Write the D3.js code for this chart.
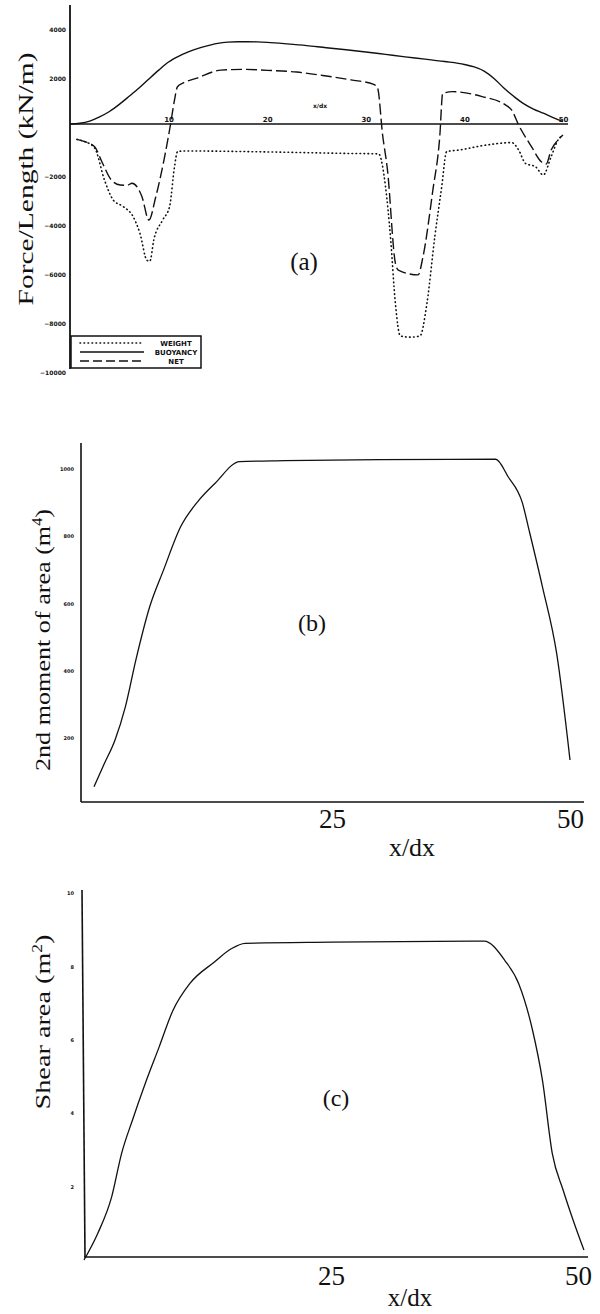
<!DOCTYPE html>
<html>
<head>
<meta charset="utf-8">
<script src="https://cdn.jsdelivr.net/npm/d3@7"></script>
<style>
  body { margin: 0; background: #fff; }
  svg { display: block; }
</style>
</head>
<body>
<script>
// ---- Panel (a): load distribution along the hull (kN/m) ----
const forceTicks = [4000, 2000, -2000, -4000, -6000, -8000, -10000];
const stationTicks = [10, 20, 30, 40, 50];
const legendLabels = ["WEIGHT", "BUOYANCY", "NET"];

const buoyancyX = [0, 1, 2, 3, 4, 5, 6, 7, 8, 9, 10, 11, 12, 13, 14, 15, 16, 17, 18, 19, 20,
  22, 24, 26, 28, 30, 32, 34, 36, 38, 40, 41, 42, 43, 44, 45, 46, 47, 48, 49, 50];
const buoyancy = [0, 30, 120, 290, 510, 800, 1130, 1470, 1840, 2200, 2530, 2760, 2940, 3090, 3200,
  3290, 3340, 3360, 3360, 3350, 3330, 3270, 3200, 3110, 3030, 2940, 2840, 2740, 2650, 2550, 2430,
  2330, 2160, 1860, 1470, 1130, 830, 610, 440, 260, 100];

const netX = [0.7, 1.5, 2.5, 3.3, 4.2, 5.1, 5.8, 6.3, 7.3, 8.0, 8.7, 9.6, 10.2, 10.6, 10.9,
  11.5, 12.8, 15.3, 17.7, 20, 23, 26, 28.5, 30.8, 31.2, 31.7, 32.2, 33, 33.3, 35.3,
  35.8, 36.8, 37.5, 37.8, 38.8, 41.8, 44.2, 44.8, 45.5, 46.8, 47.8, 48.3, 48.8, 49.5, 50];
const net = [-630, -720, -925, -1600, -2290, -2490, -2500, -2420, -2970, -3920, -2970, -1330, 0, 980, 1520,
  1680, 1860, 2200, 2230, 2190, 2120, 1960, 1800, 1620, 1460, -430, -1880, -5680, -5960, -6160,
  -5420, -2700, -520, 1250, 1320, 1120, 770, 570, -40, -920, -1540, -1630, -1060, -650, -450];

const weightX = [0.7, 1.5, 2.5, 3.5, 4.4, 5.4, 6.4, 7.1, 7.8, 8.1, 8.5, 9.4, 10.1, 10.6, 10.9,
  11.5, 20, 28, 31.3, 32, 32.5, 33, 33.5, 34.5, 35.5, 36.2, 37, 37.7, 38.2, 39.5,
  42.2, 44.8, 45.5, 46.2, 47.2, 48, 48.8, 49.5, 50];
const weight = [-630, -720, -980, -2290, -3110, -3370, -3780, -4470, -5560, -5600, -4730, -3920, -3370, -1740, -1130,
  -1100, -1140, -1200, -1220, -2560, -4600, -7320, -8650, -8700, -8650, -7320, -4600, -2560, -1130, -1060,
  -860, -760, -1060, -1610, -1740, -2080, -1330, -650, -450];

// ---- Panel (b): second moment of area (m^4) ----
const inertiaTicks = [200, 400, 600, 800, 1000];
const inertiaX = [0, 1.1, 2.2, 3.3, 4.4, 5.85, 7.3, 9.1, 10.9, 12.7, 15.3, 20, 30, 42.2, 43.5, 45, 45.7, 47.1, 48.6, 50];
const inertia = [54, 124, 193, 293, 432, 590, 699, 828, 903, 957, 1022, 1025, 1028, 1029, 977, 899, 818, 650, 451, 134];

// ---- Panel (c): shear area (m^2) ----
const shearTicks = [2, 4, 6, 8, 10];
const shearX = [0, 1.4, 2.8, 3.8, 4.9, 6.2, 7.6, 9.0, 10.7, 13.2, 14.9, 16.3, 25, 40.5, 42.6, 44, 45.4, 46.4, 47.4, 48.5, 49.5, 50.6];
const shearArea = [0, 0.73, 1.72, 2.9, 3.81, 4.81, 5.8, 6.8, 7.53, 8.12, 8.48, 8.63, 8.66, 8.69, 8.16, 7.53, 6.26, 4.9, 2.9, 1.9, 1.09, 0.27];

const lengthTicks = [25, 50];

const zip = (xs, ys) => xs.map((x, i) => [x, ys[i]]);
const ink = "#111";
const serif = "'Liberation Serif', 'DejaVu Serif', serif";
const tiny = "'DejaVu Sans', 'Liberation Sans', sans-serif";

const svg = d3.select("body").append("svg")
  .attr("width", 600).attr("height", 1314)
  .style("background", "#fff");

function curve(g, data, x, y, dash, width) {
  const line = d3.line().x(d => x(d[0])).y(d => y(d[1])).curve(d3.curveMonotoneX);
  g.append("path").datum(data)
    .attr("d", line)
    .attr("fill", "none")
    .attr("stroke", ink)
    .attr("stroke-width", width || 1.3)
    .attr("stroke-linecap", dash === "dot" ? "round" : "butt")
    .attr("stroke-dasharray", dash === "dot" ? "0.6,3.4" : (dash || null));
}

function rotatedLabel(cx, cy, parts, len, size) {
  const t = svg.append("text")
    .attr("transform", `translate(${cx},${cy}) rotate(-90)`)
    .attr("text-anchor", "middle")
    .attr("font-family", serif)
    .attr("font-size", size)
    .attr("fill", ink)
    .attr("textLength", len)
    .attr("lengthAdjust", "spacingAndGlyphs");
  parts.forEach(p => {
    const s = t.append("tspan").text(p.t);
    if (p.sup) s.attr("dy", -8).attr("font-size", size * 0.62);
    if (p.after) s.attr("dy", 8);
  });
}

function styleTiny(sel, size) {
  sel.select(".domain").remove();
  sel.selectAll("text")
    .attr("font-family", tiny)
    .attr("font-weight", "bold")
    .attr("font-size", size)
    .attr("fill", ink);
}

// ================= Panel (a) =================
const xA = d3.scaleLinear().domain([0, 50]).range([70, 563]);
const yA = d3.scaleLinear().domain([-10000, 4000]).range([369, 26]);
const gA = svg.append("g");

// axis lines
gA.append("line").attr("x1", 70).attr("x2", 70).attr("y1", 5).attr("y2", 369)
  .attr("stroke", ink).attr("stroke-width", 1.8);
gA.append("line").attr("x1", 70).attr("x2", 568).attr("y1", yA(0)).attr("y2", yA(0))
  .attr("stroke", ink).attr("stroke-width", 1.5);

const axA = gA.append("g").attr("transform", "translate(70,4)")
  .call(d3.axisLeft(yA).tickValues(forceTicks).tickSize(0).tickPadding(4).tickFormat(d3.format("d")));
styleTiny(axA, 6);

const axAx = gA.append("g").attr("transform", `translate(0,${yA(0) - 1})`)
  .call(d3.axisTop(xA).tickValues(stationTicks).tickSize(0).tickPadding(1));
styleTiny(axAx, 7);

gA.append("text").attr("x", 320).attr("y", 108).attr("text-anchor", "middle")
  .attr("font-family", tiny).attr("font-weight", "bold").attr("font-size", 6).attr("fill", ink)
  .text("x/dx");

curve(gA, zip(buoyancyX, buoyancy), xA, yA, null, 1.4);
curve(gA, zip(netX, net), xA, yA, "11,4", 1.4);
curve(gA, zip(weightX, weight), xA, yA, "dot", 1.6);

// legend
const lg = gA.append("g");
lg.append("rect").attr("x", 71).attr("y", 336).attr("width", 130).attr("height", 32)
  .attr("fill", "#fff").attr("stroke", ink).attr("stroke-width", 1.5);
const legendDash = ["dot", null, "9,4"];
const legendY = [343, 352, 361];
legendLabels.forEach((lab, i) => {
  lg.append("line").attr("x1", 80).attr("x2", 144).attr("y1", legendY[i]).attr("y2", legendY[i])
    .attr("stroke", ink).attr("stroke-width", legendDash[i] === "dot" ? 1.6 : 1.3)
    .attr("stroke-linecap", legendDash[i] === "dot" ? "round" : "butt")
    .attr("stroke-dasharray", legendDash[i] === "dot" ? "0.6,3.4" : legendDash[i]);
  lg.append("text").attr("x", 176).attr("y", legendY[i] + 3).attr("text-anchor", "middle")
    .attr("font-family", tiny).attr("font-weight", "bold").attr("font-size", 7).attr("fill", ink)
    .text(lab);
});

rotatedLabel(33, 179, [{ t: "Force/Length (kN/m)" }], 253, 22);
gA.append("text").attr("x", 304).attr("y", 270).attr("text-anchor", "middle")
  .attr("font-family", serif).attr("font-size", 25).attr("fill", ink).text("(a)");

// ================= Panel (b) =================
const xB = d3.scaleLinear().domain([0, 50]).range([94, 570]);
const yB = d3.scaleLinear().domain([0, 1000]).range([805, 469]);
const gB = svg.append("g");

gB.append("line").attr("x1", 81).attr("x2", 81).attr("y1", 443).attr("y2", 802)
  .attr("stroke", ink).attr("stroke-width", 1.6);
gB.append("line").attr("x1", 81).attr("x2", 584).attr("y1", 802).attr("y2", 802)
  .attr("stroke", ink).attr("stroke-width", 1.6);

const axB = gB.append("g").attr("transform", "translate(81,0)")
  .call(d3.axisLeft(yB).tickValues(inertiaTicks).tickSize(0).tickPadding(7).tickFormat(d3.format("d")));
styleTiny(axB, 5);

const axBx = gB.append("g").attr("transform", "translate(0,802)")
  .call(d3.axisBottom(xB).tickValues(lengthTicks).tickSize(0).tickPadding(9));
axBx.select(".domain").remove();
axBx.selectAll("text").attr("font-family", serif).attr("font-size", 27).attr("fill", ink).attr("dy", "0.62em");

curve(gB, zip(inertiaX, inertia), xB, yB, null, 1.3);

gB.append("text").attr("x", 412).attr("y", 856).attr("text-anchor", "middle")
  .attr("font-family", serif).attr("font-size", 26).attr("fill", ink).text("x/dx");
gB.append("text").attr("x", 312).attr("y", 631).attr("text-anchor", "middle")
  .attr("font-family", serif).attr("font-size", 24).attr("fill", ink).text("(b)");
rotatedLabel(50, 640, [{ t: "2nd moment of area  (m" }, { t: "4", sup: true }, { t: ")", after: true }], 262, 22);

// ================= Panel (c) =================
const xC = d3.scaleLinear().domain([0, 50]).range([84, 578]);
const yC = d3.scaleLinear().domain([0, 10]).range([1260, 893]);
const gC = svg.append("g");

gC.append("line").attr("x1", 82).attr("x2", 85).attr("y1", 890).attr("y2", 1257)
  .attr("stroke", ink).attr("stroke-width", 1.6);
gC.append("line").attr("x1", 84).attr("x2", 588).attr("y1", 1257).attr("y2", 1257)
  .attr("stroke", ink).attr("stroke-width", 1.6);

const axC = gC.append("g").attr("transform", "translate(82,0)")
  .call(d3.axisLeft(yC).tickValues(shearTicks).tickSize(0).tickPadding(8));
styleTiny(axC, 5);

const axCx = gC.append("g").attr("transform", "translate(0,1257)")
  .call(d3.axisBottom(xC).tickValues(lengthTicks).tickSize(0).tickPadding(11));
axCx.select(".domain").remove();
axCx.selectAll("text").attr("font-family", serif).attr("font-size", 27).attr("fill", ink).attr("dy", "0.62em");

curve(gC, zip(shearX, shearArea), xC, yC, null, 1.3);

gC.append("text").attr("x", 410).attr("y", 1306).attr("text-anchor", "middle")
  .attr("font-family", serif).attr("font-size", 25).attr("fill", ink).text("x/dx");
gC.append("text").attr("x", 336).attr("y", 1106).attr("text-anchor", "middle")
  .attr("font-family", serif).attr("font-size", 24).attr("fill", ink).text("(c)");
rotatedLabel(50, 1022, [{ t: "Shear area  (m" }, { t: "2", sup: true }, { t: ")", after: true }], 175, 22);
</script>
</body>
</html>
